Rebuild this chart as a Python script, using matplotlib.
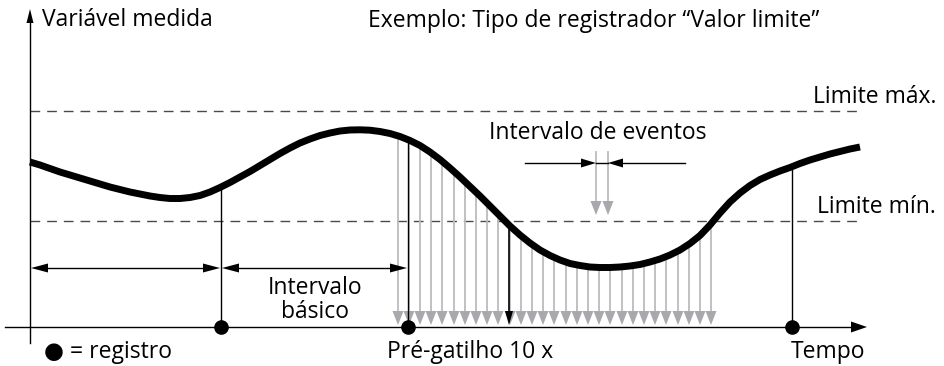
"""Diagram: limit-value recorder (registrador "Valor limite")."""

import matplotlib

matplotlib.use("Agg")
import matplotlib.pyplot as plt
import numpy as np
from matplotlib.patches import Polygon

# %% Data (time / value units, origin at the axis cross)
curve_t = list(range(0, 840, 10))
curve_v = [165, 162, 158.5, 155, 152, 149, 146, 143, 140, 137.5, 135, 133, 131,
           129.5, 128.5, 128.5, 129.5, 131.5, 135, 139.5, 144.5, 150, 155.5,
           161.5, 167.5, 173.5, 179, 184, 188, 191.5, 194, 196, 197, 197.2,
           196.8, 195.5, 193.5, 190.5, 186.5, 181.5, 175, 167.5, 159, 150,
           140.5, 131, 121, 111, 101, 92, 84, 77, 71.5, 67, 63.5, 61.5, 60,
           59.5, 59.5, 60, 61, 62.5, 65, 68, 72, 77, 83.5, 91.5, 102, 114, 125,
           134, 141.5, 147.5, 152, 156, 159.5, 163.5, 167, 170, 173, 175.5, 178,
           180]

limit_max = 216
limit_min = 106

register_t = [191, 378, 762]          # recorded points (dots)
basic_interval_arrow_v = 59

event_t = [368, 379, 390, 401, 412, 424, 435, 446, 457, 468, 480, 491, 502, 513,
           524, 536, 547, 558, 569, 580, 592, 603, 614, 625, 636, 648, 659, 670,
           681]
trigger_t = 479

example_event_t = [566, 578]
example_event_top = 175
example_event_tip = 112
example_bar_v = 164
example_bar_from = [495, 655]

labels = {
    "ylabel": "Variável medida",
    "title": "Exemplo: Tipo de registrador \u201cValor limite\u201d",
    "max": "Limite máx.",
    "min": "Limite mín.",
    "events": "Intervalo de eventos",
    "basic": "Intervalo\nbásico",
    "legend": "\u25cf = registro",
    "pre": "Pré-gatilho 10 x",
    "time": "Tempo",
}

plt.rcParams["font.family"] = ["Open Sans", "DejaVu Sans"]
FS = 16.5
GRAY_LINE = "#bcbcbc"
GRAY_HEAD = "#a7a9ac"

fig = plt.figure(figsize=(9.44, 3.66), dpi=100)
ax = fig.add_axes([0, 0, 1, 1])
ax.set_xlim(-30, 914)
ax.set_ylim(-39, 327)
ax.axis("off")


def head(ax, x, y, direction, w=10.5, h=14, color="black", z=3):
    """Filled triangular arrow head with its tip at (x, y)."""
    if direction == "down":
        pts = [(x, y), (x - w / 2, y + h), (x + w / 2, y + h)]
    elif direction == "up":
        pts = [(x, y), (x - w / 2, y - h), (x + w / 2, y - h)]
    elif direction == "right":
        pts = [(x, y), (x - h, y + w / 2), (x - h, y - w / 2)]
    else:
        pts = [(x, y), (x + h, y + w / 2), (x + h, y - w / 2)]
    ax.add_patch(Polygon(pts, closed=True, facecolor=color, edgecolor="none", zorder=z))


# %% Axes
ax.plot([-25, 822], [0, 0], color="black", lw=1.0, zorder=4)
head(ax, 837, 0, "right", w=11, h=16, z=4)
ax.plot([0, 0], [-16, 305], color="black", lw=1.0, zorder=4)
head(ax, 0, 318, "up", w=7, h=14, z=4)

# %% Limits
for lim in (limit_max, limit_min):
    ax.plot([0, 830], [lim, lim], color="#4a4a4a", lw=1.0,
            dashes=(7, 5), zorder=1)

# %% Event arrows (gray)
tip_v = 2
for t in event_t:
    top = np.interp(t, curve_t, curve_v)
    ax.plot([t, t], [top, tip_v + 12], color=GRAY_LINE, lw=1.3, zorder=2)
    head(ax, t, tip_v, "down", w=11, h=14, color=GRAY_HEAD, z=2)

# trigger arrow
top = np.interp(trigger_t, curve_t, curve_v)
ax.plot([trigger_t, trigger_t], [top, tip_v + 12], color="black", lw=1.2, zorder=3)
head(ax, trigger_t, tip_v, "down", w=8, h=14, z=3)

# %% Registers
for t in register_t:
    top = np.interp(t, curve_t, curve_v)
    ax.plot([t, t], [0, top], color="black", lw=1.0, zorder=3)
ax.plot(register_t, [0] * len(register_t), "o", color="black", ms=9.5, zorder=5)

# basic interval arrows
for a, b in ((0, register_t[0]), (register_t[0], register_t[1])):
    ax.plot([a + 12, b - 12], [basic_interval_arrow_v] * 2, color="black", lw=1.0)
    head(ax, a + 1, basic_interval_arrow_v, "left", w=9, h=17)
    head(ax, b - 1, basic_interval_arrow_v, "right", w=9, h=17)

# %% Event interval example
for t in example_event_t:
    ax.plot([t, t], [example_event_top, example_event_tip + 12],
            color=GRAY_LINE, lw=1.3, zorder=2)
    head(ax, t, example_event_tip, "down", w=11, h=14, color=GRAY_HEAD, z=2)
ax.plot([example_bar_from[0], example_event_t[0] - 10], [example_bar_v] * 2,
        color="black", lw=1.0)
ax.plot(example_event_t, [example_bar_v] * 2, color="black", lw=1.0)
ax.plot([example_event_t[1] + 10, example_bar_from[1]], [example_bar_v] * 2,
        color="black", lw=1.0)
head(ax, example_event_t[0], example_bar_v, "right", w=9, h=15)
head(ax, example_event_t[1], example_bar_v, "left", w=9, h=15)

# %% Measured curve
ax.plot(curve_t, curve_v, color="black", lw=5, solid_capstyle="butt",
        solid_joinstyle="round", zorder=6)

# %% Texts
ax.text(12, 307, labels["ylabel"], fontsize=FS, va="center", ha="left")
ax.text(338, 306, labels["title"], fontsize=FS, va="center", ha="left")
ax.text(906, 230, labels["max"], fontsize=FS, va="center", ha="right")
ax.text(906, 120, labels["min"], fontsize=FS, va="center", ha="right")
ax.text(568, 194, labels["events"], fontsize=FS, va="center", ha="center")
ax.text(285, 27, labels["basic"], fontsize=FS, va="center", ha="center",
        linespacing=0.95, zorder=7)
ax.text(14, -25, labels["legend"], fontsize=FS, va="center", ha="left")
ax.text(440, -25, labels["pre"], fontsize=FS, va="center", ha="center")
ax.text(798, -25, labels["time"], fontsize=FS, va="center", ha="center")

fig.savefig("out.png", dpi=100)
